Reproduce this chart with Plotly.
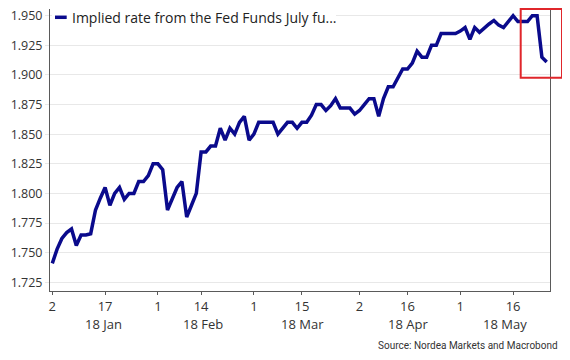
import pandas as pd
import plotly.graph_objects as go

# ---- data ----
dates = pd.bdate_range("2018-01-02", "2018-05-25")  # business days
rate = [
    1.741, 1.753, 1.762, 1.767, 1.770, 1.756, 1.765, 1.765, 1.766, 1.786,
    1.796, 1.805, 1.790, 1.800, 1.805, 1.795, 1.800, 1.800, 1.810, 1.810,
    1.815, 1.825, 1.825, 1.820, 1.786, 1.795, 1.805, 1.810, 1.780, 1.790,
    1.800, 1.835, 1.835, 1.840, 1.840, 1.855, 1.845, 1.855, 1.850, 1.860,
    1.865, 1.845, 1.850, 1.860, 1.860, 1.860, 1.860, 1.850, 1.855, 1.860,
    1.860, 1.855, 1.860, 1.860, 1.866, 1.875, 1.875, 1.870, 1.874, 1.880,
    1.872, 1.872, 1.872, 1.867, 1.870, 1.875, 1.880, 1.880, 1.865, 1.880,
    1.890, 1.890, 1.897, 1.905, 1.905, 1.910, 1.920, 1.915, 1.915, 1.925,
    1.925, 1.935, 1.935, 1.935, 1.935, 1.937, 1.940, 1.930, 1.940, 1.936,
    1.940, 1.943, 1.946, 1.942, 1.940, 1.945, 1.950, 1.945, 1.945, 1.945,
    1.950, 1.950, 1.915, 1.911,
]
series_name = "Implied rate from the Fed Funds July fu..."
x_tickvals = ["2018-01-02", "2018-01-17", "2018-02-01", "2018-02-14", "2018-03-01",
              "2018-03-15", "2018-04-02", "2018-04-16", "2018-05-01", "2018-05-16"]
x_ticktext = ["2", "17", "1", "14", "1", "15", "2", "16", "1", "16"]
month_labels = ["18 Jan", "18 Feb", "18 Mar", "18 Apr", "18 May"]
month_label_at = ["2018-01-16 18:00", "2018-02-14 11:00", "2018-03-15 05:00",
                  "2018-04-16 00:00", "2018-05-14 05:00"]
y_tickvals = [1.725, 1.750, 1.775, 1.800, 1.825, 1.850, 1.875, 1.900, 1.925, 1.950]
y_ticktext = ["1.725", "1.750", "1.775", "1.800", "1.825", "1.850", "1.875",
              "1.900", "1.925", "1.950"]
source_text = "Source: Nordea Markets and Macrobond"

# ---- styles ----
LINE_COLOR = "#0a0a8c"
FONT = "Open Sans, Noto Sans, sans-serif"
TXT = "#333333"
GRID = "#e8e8e8"
AXIS = "#5a5a5a"

fig = go.Figure()
fig.add_trace(go.Scatter(
    x=dates, y=rate, mode="lines", name=series_name,
    line=dict(color=LINE_COLOR, width=3.5),
    showlegend=False,
))

# the page body has an 8px margin, so the figure is 8px smaller than the window
fig.update_layout(
    width=562, height=352,
    margin=dict(l=42, r=20, t=1, b=69, autoexpand=False),
    paper_bgcolor="white", plot_bgcolor="white",
    font=dict(family=FONT, size=13, color=TXT),
)
fig.update_xaxes(
    type="date",
    rangebreaks=[dict(bounds=["sat", "mon"])],
    range=["2018-01-01 12:30", "2018-05-25 16:30"],
    tickmode="array", tickvals=x_tickvals, ticktext=x_ticktext,
    ticks="outside", ticklen=3, tickcolor=AXIS, tickwidth=1,
    showgrid=False, showline=True, linecolor=AXIS, linewidth=1,
    tickfont=dict(size=13, color=TXT),
    zeroline=False, ticklabeloverflow="allow",
)
fig.update_yaxes(
    range=[1.71766, 1.95565],
    tickmode="array", tickvals=y_tickvals, ticktext=y_ticktext,
    ticks="outside", ticklen=4, tickcolor=GRID,
    showgrid=True, gridcolor=GRID, gridwidth=1,
    showline=True, linecolor=AXIS, linewidth=1, mirror=True,
    tickfont=dict(size=12.5, color=TXT),
    zeroline=False, ticklabeloverflow="allow",
)

# legend (drawn manually: short key line + label on white background)
fig.add_shape(type="rect", xref="paper", yref="paper",
              x0=0.004, x1=0.572, y0=0.9397, y1=0.999,
              fillcolor="white", line=dict(width=0), layer="above")
fig.add_shape(type="line", xref="paper", yref="paper",
              x0=0.010, x1=0.0334, y0=0.9706, y1=0.9706,
              line=dict(color=LINE_COLOR, width=3.5), layer="above")
fig.add_annotation(text=series_name, xref="paper", yref="paper",
                   x=0.040, y=0.9706, xanchor="left", yanchor="middle",
                   showarrow=False, font=dict(size=14, color="#222222"))

# month labels
for lab, pos in zip(month_labels, month_label_at):
    fig.add_annotation(text=lab, x=pos, xref="x", y=-0.117, yref="paper",
                       xanchor="center", yanchor="middle", showarrow=False,
                       font=dict(size=13, color=TXT))

# source
fig.add_annotation(text=source_text, xref="paper", yref="paper",
                   x=1.02, y=-0.195, xanchor="right", yanchor="middle",
                   showarrow=False,
                   font=dict(family="Liberation Sans Narrow, Roboto, sans-serif",
                             size=10, color=TXT))

# red highlight box
fig.add_shape(type="rect", xref="paper", yref="paper",
              x0=0.9414, x1=1.024, y0=0.7564, y1=1.0,
              line=dict(color="#e0262b", width=2), fillcolor="rgba(0,0,0,0)",
              layer="above")

fig.write_html("out.html")
